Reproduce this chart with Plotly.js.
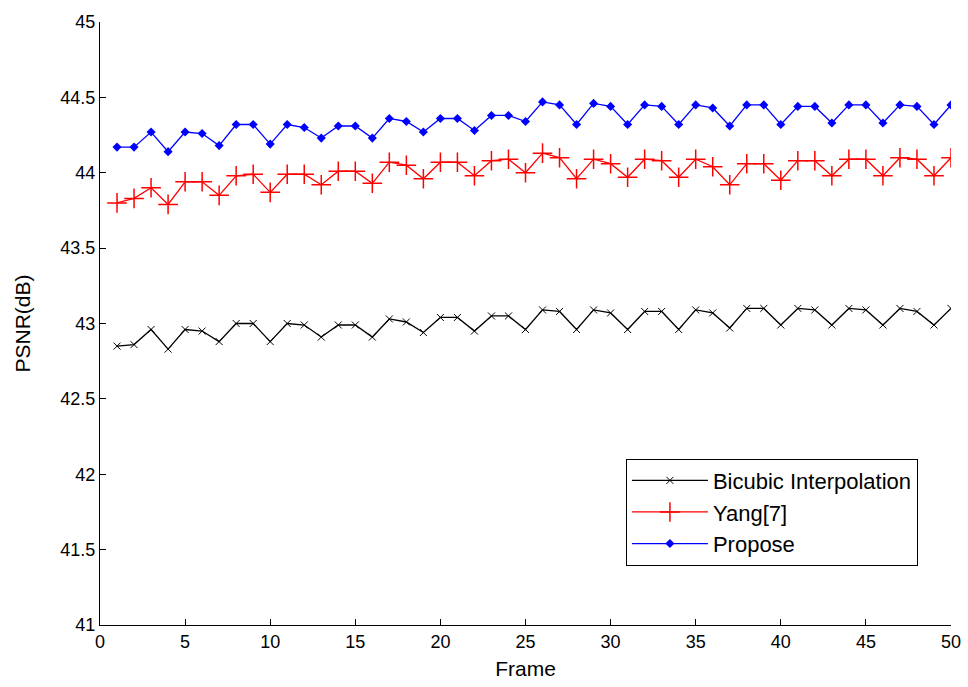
<!DOCTYPE html>
<html>
<head>
<meta charset="utf-8">
<script src="https://cdn.plot.ly/plotly-3.0.1.min.js"></script>
<style>html,body{margin:0;padding:0;background:#fff;}#chart{width:968px;height:687px;}</style>
</head>
<body>
<div id="chart"></div>
<script>
var frames = [];
for (var i = 1; i <= 50; i++) frames.push(i);

var bicubic = [42.85,42.86,42.96,42.83,42.96,42.95,42.88,43.00,43.00,42.88,
               43.00,42.99,42.91,42.99,42.99,42.91,43.03,43.01,42.94,43.04,
               43.04,42.95,43.05,43.05,42.96,43.09,43.08,42.96,43.09,43.07,
               42.96,43.08,43.08,42.96,43.09,43.07,42.97,43.10,43.10,42.99,
               43.10,43.09,42.99,43.10,43.09,42.99,43.10,43.08,42.99,43.10];

var yang = [43.80,43.83,43.90,43.79,43.94,43.94,43.85,43.98,43.99,43.87,
            43.99,43.99,43.92,44.01,44.01,43.93,44.07,44.05,43.96,44.07,
            44.07,43.98,44.08,44.09,44.00,44.13,44.10,43.96,44.09,44.06,
            43.97,44.09,44.08,43.97,44.09,44.04,43.92,44.06,44.06,43.95,
            44.08,44.08,43.98,44.09,44.09,43.98,44.10,44.09,43.98,44.10];

var propose = [44.17,44.17,44.27,44.14,44.27,44.26,44.18,44.32,44.32,44.19,
               44.32,44.30,44.23,44.31,44.31,44.23,44.36,44.34,44.27,44.36,
               44.36,44.28,44.38,44.38,44.34,44.47,44.45,44.32,44.46,44.44,
               44.32,44.45,44.44,44.32,44.45,44.43,44.31,44.45,44.45,44.32,
               44.44,44.44,44.33,44.45,44.45,44.33,44.45,44.44,44.32,44.45];

var names = ['Bicubic Interpolation', 'Yang[7]', 'Propose'];

var traces = [
  {x: frames, y: bicubic, name: names[0], type: 'scatter', mode: 'lines+markers',
   line: {color: '#000000', width: 1.3},
   marker: {symbol: 'x-thin', size: 7, color: '#000000', line: {color: '#000000', width: 1}}},
  {x: frames, y: yang, name: names[1], type: 'scatter', mode: 'lines+markers',
   line: {color: '#ff0000', width: 1.3},
   marker: {symbol: 'cross-thin', size: 14, color: '#ff0000', line: {color: '#ff0000', width: 1.5}}},
  {x: frames, y: propose, name: names[2], type: 'scatter', mode: 'lines+markers',
   line: {color: '#0000ff', width: 1.3},
   marker: {symbol: 'diamond', size: 7, color: '#0000ff', line: {width: 0}}}
];

var layout = {
  width: 968, height: 687,
  margin: {l: 100, r: 17, t: 22, b: 62},
  paper_bgcolor: '#ffffff', plot_bgcolor: '#ffffff',
  font: {family: 'Liberation Sans, Arial, sans-serif', size: 18, color: '#000000'},
  showlegend: true,
  legend: {
    x: 0.618, y: 0.276, xanchor: 'left', yanchor: 'top',
    bgcolor: '#ffffff', bordercolor: '#000000', borderwidth: 1,
    font: {size: 22}, itemwidth: 76, tracegroupgap: 0
  },
  xaxis: {
    range: [0, 50], tickvals: [0,5,10,15,20,25,30,35,40,45,50],
    ticks: 'inside', ticklen: 6, tickcolor: '#000', showgrid: false, zeroline: false,
    showline: true, linecolor: '#000', linewidth: 1, mirror: false,
    tickfont: {size: 18},
    title: {text: 'Frame', font: {size: 21}, standoff: 10}
  },
  yaxis: {
    range: [41, 45], tickvals: [41,41.5,42,42.5,43,43.5,44,44.5,45],
    ticktext: ['41','41.5','42','42.5','43','43.5','44','44.5','45'],
    ticks: 'inside', ticklen: 6, tickcolor: '#000', showgrid: false, zeroline: false,
    showline: true, linecolor: '#000', linewidth: 1, mirror: false,
    tickfont: {size: 18},
    title: {text: 'PSNR(dB)', font: {size: 21}, standoff: 24}
  }
};

Plotly.newPlot('chart', traces, layout, {displayModeBar: false, staticPlot: true});
</script>
</body>
</html>
